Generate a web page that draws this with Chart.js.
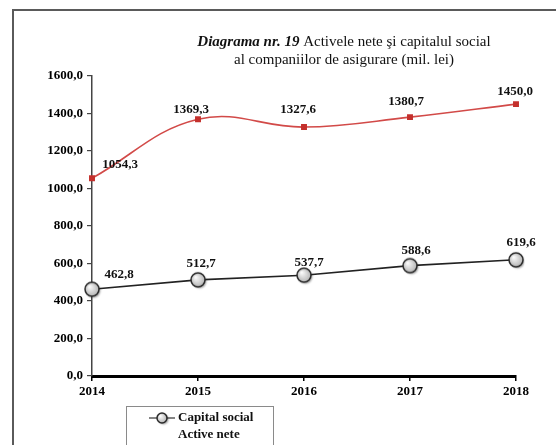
<!DOCTYPE html>
<html>
<head>
<meta charset="utf-8">
<script src="https://cdn.jsdelivr.net/npm/chart.js@4.4.1/dist/chart.umd.min.js"></script>
<style>
    html, body { margin: 0; padding: 0; background: #fff; }
    #wrap { position: relative; width: 556px; height: 445px; overflow: hidden; }
    #frame { position: absolute; left: 12px; top: 9px; width: 700px; height: 600px;
             border-left: 2px solid #5a5a5a; border-top: 2px solid #5a5a5a; }
    #wrap canvas { position: absolute; left: 0; top: 0; }
</style>
</head>
<body>
<div id="wrap">
    <div id="frame"></div>
    <canvas id="chart" width="556" height="445"></canvas>
</div>
<script>
// date
const years = ['2014', '2015', '2016', '2017', '2018'];
const capitalSocial = [462.8, 512.7, 537.7, 588.6, 619.6];
const activeNete = [1054.3, 1369.3, 1327.6, 1380.7, 1450.0];
const yMin = 0, yMax = 1600, yStep = 200;

// unde stau etichetele fata de punct (dx, dy)
const capitalLabelOffsets = [[27, -15], [3, -16], [5, -13], [6, -15], [5, -17]];
const activeLabelOffsets = [[28, -14], [-7, -10], [-6, -17], [-4, -15], [-1, -12]];

const serif = "'Liberation Serif', 'Times New Roman', serif";
const boldFont = { family: serif, size: 13, weight: 'bold' };
const fmt = v => v.toFixed(1).replace('.', ',');

// bila gri cu gradient pentru Capital social
function makeBall(r) {
    const c = document.createElement('canvas');
    const s = 2 * r + 8;
    c.width = s; c.height = s;
    const g = c.getContext('2d');
    const cx = s / 2, cy = s / 2;
    g.save();
    g.shadowColor = 'rgba(0,0,0,0.35)';
    g.shadowOffsetX = 1.5;
    g.shadowOffsetY = 1.5;
    g.shadowBlur = 2;
    const grad = g.createRadialGradient(cx - r * 0.35, cy - r * 0.4, 0.5, cx, cy, r);
    grad.addColorStop(0, '#fbfbfb');
    grad.addColorStop(1, '#b5b5b5');
    g.beginPath();
    g.arc(cx, cy, r, 0, Math.PI * 2);
    g.fillStyle = grad;
    g.fill();
    g.restore();
    g.beginPath();
    g.arc(cx, cy, r, 0, Math.PI * 2);
    g.lineWidth = 1.5;
    g.strokeStyle = '#2b2b2b';
    g.stroke();
    return c;
}
const ball = makeBall(7);
const smallBall = makeBall(5);

const valueLabels = {
    id: 'valueLabels',
    afterDatasetsDraw(chart) {
        const ctx = chart.ctx;
        ctx.save();
        ctx.font = 'bold 13px ' + serif;
        ctx.fillStyle = '#111';
        ctx.textAlign = 'center';
        ctx.textBaseline = 'middle';
        chart.data.datasets.forEach((ds, i) => {
            chart.getDatasetMeta(i).data.forEach((pt, j) => {
                const off = ds.labelOffsets[j];
                ctx.fillText(fmt(ds.data[j]), pt.x + off[0], pt.y + off[1]);
            });
        });
        ctx.restore();
    }
};

const titleAndLegend = {
    id: 'titleAndLegend',
    afterDraw(chart) {
        const ctx = chart.ctx;
        ctx.save();
        ctx.fillStyle = '#111';
        ctx.textBaseline = 'middle';

        // titlu pe doua randuri
        const cx = 344;
        const part1 = 'Diagrama nr. 19';
        const part2 = ' Activele nete şi capitalul social';
        ctx.font = 'italic bold 15px ' + serif;
        const w1 = ctx.measureText(part1).width;
        ctx.font = '15px ' + serif;
        const w2 = ctx.measureText(part2).width;
        let x = cx - (w1 + w2) / 2;
        ctx.textAlign = 'left';
        ctx.font = 'italic bold 15px ' + serif;
        ctx.fillText(part1, x, 42);
        ctx.font = '15px ' + serif;
        ctx.fillText(part2, x + w1, 42);
        ctx.textAlign = 'center';
        ctx.fillText('al companiilor de asigurare (mil. lei)', cx, 60);

        // legenda
        ctx.strokeStyle = '#8a8a8a';
        ctx.lineWidth = 1;
        ctx.strokeRect(126.5, 406.5, 147, 60);
        ctx.strokeStyle = '#333';
        ctx.lineWidth = 1.2;
        ctx.beginPath();
        ctx.moveTo(149, 418);
        ctx.lineTo(175, 418);
        ctx.stroke();
        ctx.drawImage(smallBall, 162 - smallBall.width / 2, 418 - smallBall.height / 2);
        ctx.textAlign = 'left';
        ctx.font = 'bold 13px ' + serif;
        ctx.fillText(chart.data.datasets[0].label, 178, 418);
        ctx.fillText(chart.data.datasets[1].label, 178, 435);
        ctx.restore();
    }
};

new Chart(document.getElementById('chart'), {
    type: 'line',
    data: {
        labels: years,
        datasets: [{
            label: 'Capital social',
            data: capitalSocial,
            labelOffsets: capitalLabelOffsets,
            borderColor: '#222',
            borderWidth: 1.6,
            tension: 0,
            pointStyle: ball,
            pointRadius: 7
        }, {
            label: 'Active nete',
            data: activeNete,
            labelOffsets: activeLabelOffsets,
            borderColor: '#d24a48',
            borderWidth: 1.6,
            tension: 0.4,
            pointStyle: 'rect',
            pointRadius: 4.2,
            pointBackgroundColor: '#c4302c',
            pointBorderColor: '#c4302c',
            pointBorderWidth: 0
        }]
    },
    options: {
        responsive: false,
        animation: false,
        layout: { padding: { top: 76, right: 40, left: 0, bottom: 0 } },
        plugins: {
            legend: { display: false },
            tooltip: { enabled: false }
        },
        scales: {
            x: {
                offset: false,
                grid: { drawOnChartArea: false, tickLength: 5, color: '#000', lineWidth: 1.5 },
                border: { color: '#000', width: 3 },
                ticks: { color: '#000', font: boldFont, padding: 3, maxRotation: 0 },
                afterFit: s => { s.height = 69; }
            },
            y: {
                min: yMin,
                max: yMax,
                grid: { drawOnChartArea: false, tickLength: 5, color: '#444', lineWidth: 1.2 },
                border: { color: '#444', width: 1.5 },
                ticks: { stepSize: yStep, color: '#000', font: boldFont, padding: 4,
                         callback: v => fmt(v) },
                afterFit: s => { s.width = 92; }
            }
        }
    },
    plugins: [valueLabels, titleAndLegend]
});
</script>
</body>
</html>
